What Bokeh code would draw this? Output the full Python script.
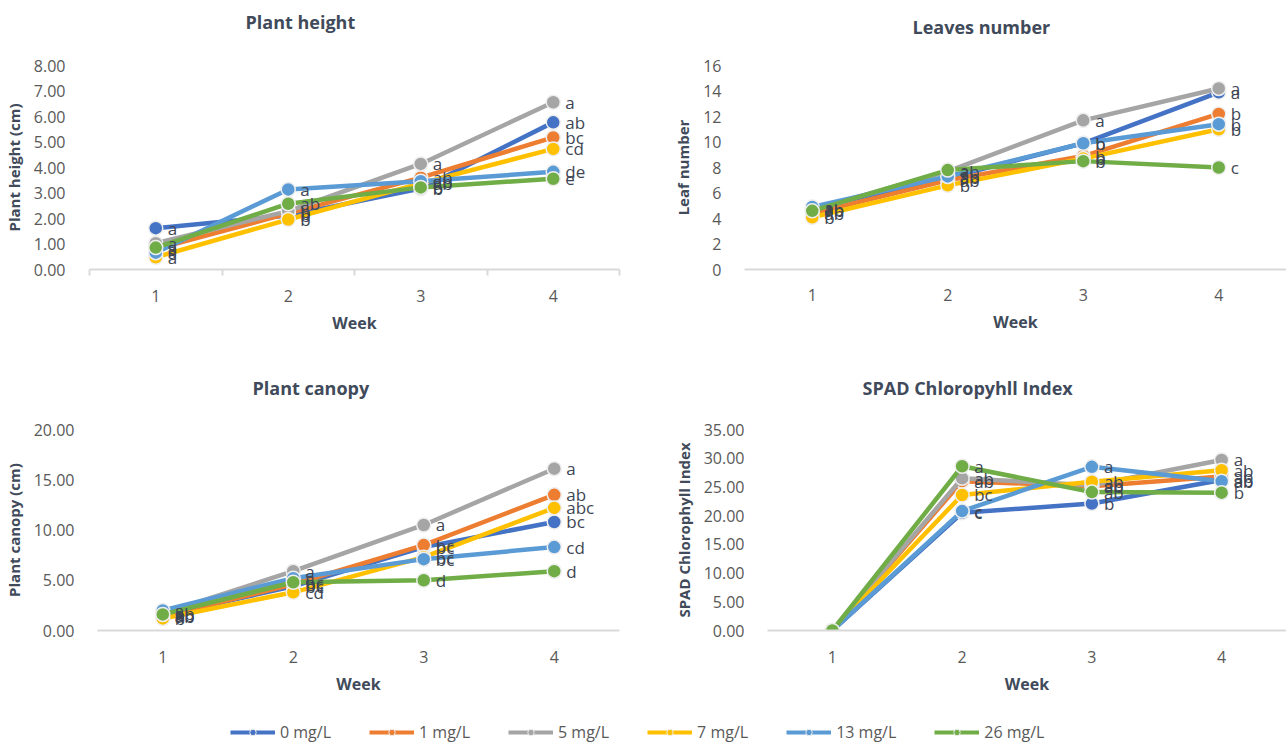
from bokeh.plotting import figure
from bokeh.models import (Range1d, FixedTicker, NumeralTickFormatter, ColumnDataSource,
                          LabelSet, Legend, LegendItem, Title)
from bokeh.layouts import column, row
from bokeh.embed import file_html
from bokeh.resources import INLINE
from bokeh.core.properties import value

# ---------------- data ----------------
weeks = [1, 2, 3, 4]
series_names = ["0 mg/L", "1 mg/L", "5 mg/L", "7 mg/L", "13 mg/L", "26 mg/L"]
series_colors = ["#4472C4", "#ED7D31", "#A5A5A5", "#FFC000", "#5B9BD5", "#70AD47"]

# Plant height (cm), one list per series (order as series_names)
plant_height = [
    [1.62, 2.12, 3.17, 5.77],
    [0.80, 2.20, 3.60, 5.18],
    [1.03, 2.29, 4.14, 6.56],
    [0.48, 1.96, 3.38, 4.73],
    [0.66, 3.14, 3.46, 3.83],
    [0.86, 2.58, 3.22, 3.56],
]
plant_height_letters = [
    ["a", "b", "b", "ab"],
    ["a", "b", "ab", "bc"],
    ["a", "b", "a", "a"],
    ["a", "b", "ab", "cd"],
    ["a", "a", "ab", "de"],
    ["a", "ab", "b", "e"],
]

# Leaves number
leaves_number = [
    [4.8, 7.2, 9.9, 13.9],
    [4.4, 7.0, 8.9, 12.2],
    [4.7, 7.7, 11.7, 14.2],
    [4.1, 6.6, 8.7, 11.0],
    [4.9, 7.3, 9.9, 11.4],
    [4.6, 7.8, 8.5, 8.0],
]
leaves_letters = [
    ["a", "ab", "b", "a"],
    ["ab", "ab", "b", "b"],
    ["ab", "ab", "a", "a"],
    ["b", "b", "b", "b"],
    ["a", "ab", "b", "b"],
    ["ab", "a", "b", "c"],
]

# Plant canopy (cm)
plant_canopy = [
    [1.5, 4.4, 8.3, 10.8],
    [1.4, 4.6, 8.5, 13.5],
    [1.7, 5.9, 10.5, 16.1],
    [1.2, 3.8, 7.3, 12.2],
    [2.0, 5.2, 7.1, 8.3],
    [1.6, 4.8, 5.0, 5.9],
]
canopy_letters = [
    ["ab", "bc", "bc", "bc"],
    ["ab", "bc", "bc", "ab"],
    ["ab", "a", "a", "a"],
    ["b", "cd", "bc", "abc"],
    ["a", "a", "bc", "cd"],
    ["b", "bc", "d", "d"],
]

# SPAD chlorophyll index
spad_index = [
    [0.0, 20.5, 22.1, 26.2],
    [0.0, 26.0, 25.1, 26.8],
    [0.0, 26.5, 25.3, 29.7],
    [0.0, 23.6, 25.9, 27.9],
    [0.0, 20.8, 28.5, 26.0],
    [0.0, 28.6, 24.1, 24.0],
]
spad_letters = [
    ["", "c", "b", "ab"],
    ["", "ab", "ab", "ab"],
    ["", "ab", "ab", "a"],
    ["", "bc", "ab", "ab"],
    ["", "c", "a", "ab"],
    ["", "a", "ab", "b"],
]

FONT = "Open Sans"
TICK_COLOR = "#595959"
TITLE_COLOR = "#404A5A"
LABEL_COLOR = "#3E4654"
AXIS_COLOR = "#D9D9D9"


def make_panel(title, title_offset, spacer, ylabel, values, letters,
               ymax, ystep, fmt, width, height, left, right, top, bottom,
               between_ticks, x_std, y_std):
    p = figure(width=width, height=height, x_range=Range1d(0.5, 4.5),
               y_range=Range1d(0, ymax), output_backend="svg",
               toolbar_location=None, min_border_left=left,
               min_border_right=right, min_border_top=top,
               min_border_bottom=bottom, title=title)
    p.outline_line_color = None
    p.xgrid.visible = False
    p.ygrid.visible = False
    p.background_fill_color = "white"
    p.border_fill_color = "white"

    # spacer between frame and title (closest to the frame)
    p.add_layout(Title(text=" ", text_font_size="1px", standoff=spacer - 1), "above")

    p.title.align = "left"
    p.title.offset = title_offset
    p.title.standoff = 4
    p.title.text_font = FONT
    p.title.text_font_size = "18px"
    p.title.text_font_style = "bold"
    p.title.text_color = TITLE_COLOR

    minor = [w - 0.5 for w in weeks] + [weeks[-1] + 0.5]
    p.xaxis.ticker = FixedTicker(ticks=weeks, minor_ticks=minor if between_ticks else [])
    p.xaxis.axis_line_color = AXIS_COLOR
    p.xaxis.axis_line_width = 2
    p.xaxis.major_tick_line_color = None
    p.xaxis.minor_tick_line_color = AXIS_COLOR if between_ticks else None
    p.xaxis.minor_tick_line_width = 2
    p.xaxis.minor_tick_in = 0
    p.xaxis.minor_tick_out = 6
    p.xaxis.major_label_standoff = x_std
    p.xaxis.major_label_text_font = FONT
    p.xaxis.major_label_text_font_size = "16px"
    p.xaxis.major_label_text_color = TICK_COLOR
    p.xaxis.axis_label = "Week"
    p.xaxis.axis_label_standoff = 7
    p.xaxis.axis_label_text_font = FONT
    p.xaxis.axis_label_text_font_size = "16px"
    p.xaxis.axis_label_text_font_style = "bold"
    p.xaxis.axis_label_text_color = TITLE_COLOR

    yt = []
    v = 0
    while v <= ymax + 1e-9:
        yt.append(v)
        v += ystep
    p.yaxis.ticker = FixedTicker(ticks=yt, minor_ticks=[])
    p.yaxis.formatter = NumeralTickFormatter(format=fmt)
    p.yaxis.axis_line_color = None
    p.yaxis.major_tick_line_color = None
    p.yaxis.minor_tick_line_color = None
    p.yaxis.major_label_standoff = y_std
    p.yaxis.major_label_text_font = FONT
    p.yaxis.major_label_text_font_size = "16px"
    p.yaxis.major_label_text_color = TICK_COLOR
    p.yaxis.axis_label = ylabel
    p.yaxis.axis_label_standoff = 7
    p.yaxis.axis_label_text_font = FONT
    p.yaxis.axis_label_text_font_size = "15px"
    p.yaxis.axis_label_text_font_style = "bold"
    p.yaxis.axis_label_text_color = TITLE_COLOR

    for vals, col in zip(values, series_colors):
        p.line(weeks, vals, line_color=col, line_width=4.5)
        p.scatter(weeks, vals, size=14, fill_color=col, line_color="#EEEEEE",
                  line_width=1.5)
    for vals, lets in zip(values, letters):
        src = ColumnDataSource(dict(x=weeks, y=vals, t=lets))
        p.add_layout(LabelSet(x="x", y="y", text="t", source=src, x_offset=12,
                              y_offset=0, text_baseline="middle", text_align="left",
                              text_font=value(FONT), text_font_size="17px",
                              text_color=LABEL_COLOR))
    return p


pA = make_panel("Plant height", 156, 28, "Plant height (cm)", plant_height,
                plant_height_letters, 8, 1, "0.00", 640, 370, 83, 21, 62, 97,
                True, 14, 18)
pB = make_panel("Leaves number", 168, 23, "Leaf number", leaves_number,
                leaves_letters, 16, 2, "0", 646, 370, 104, 0, 65, 101,
                False, 13, 17)
pC = make_panel("Plant canopy", 155, 26, "Plant canopy (cm)", plant_canopy,
                canopy_letters, 20, 5, "0.00", 640, 340, 93, 21, 59, 78,
                False, 14, 17)
pD = make_panel("SPAD Chloropyhll Index", 95, 26, "SPAD Chlorophyll Index", spad_index,
                spad_letters, 35, 5, "0.00", 646, 340, 127, 0, 59, 80,
                False, 14, 17)

# legend strip: series renderers kept outside the visible range, only their
# legend glyphs are shown
pL = figure(width=1286, height=35, x_range=Range1d(-2, -1), y_range=Range1d(-2, -1),
            output_backend="svg", toolbar_location=None, min_border=0,
            x_axis_location=None, y_axis_location=None)
pL.outline_line_color = None
pL.xgrid.visible = False
pL.ygrid.visible = False
items = []
for name, col, vals in zip(series_names, series_colors, plant_height):
    lr = pL.line(weeks, vals, line_color=col, line_width=4)
    sr = pL.scatter(weeks, vals, size=9, fill_color=col, line_color="#EEEEEE", line_width=1)
    items.append(LegendItem(label=name, renderers=[lr, sr]))
legend = Legend(items=items, orientation="horizontal", location=(230, 2),
                glyph_width=45, glyph_height=16, label_standoff=5, spacing=38,
                padding=0, margin=0, border_line_color=None,
                background_fill_alpha=0, label_text_font=FONT,
                label_text_font_size="16px", label_text_color=TICK_COLOR)
pL.add_layout(legend)

layout = column(row(pA, pB), row(pC, pD), pL)
open("out.html", "w").write(file_html(layout, INLINE))
